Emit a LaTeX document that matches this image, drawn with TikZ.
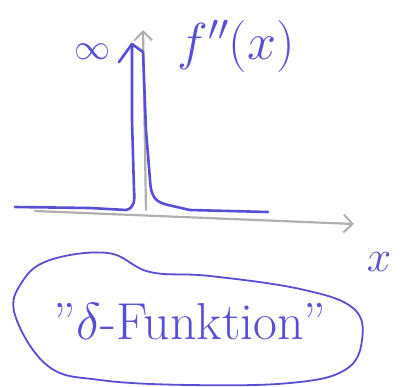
\RequirePackage{fix-cm}
\documentclass[tikz,border=0pt]{standalone}
\usepackage{amsmath}
\usepackage{tikz}
\usetikzlibrary{arrows.meta,positioning}

\definecolor{pen}{RGB}{88,78,212}
\definecolor{pencil}{RGB}{175,175,175}

\begin{document}
\begin{tikzpicture}
          [x=1pt,y=-1pt,line cap=round,line join=round]
          \tikzstyle{axis}=[draw=pencil,line width=2.2pt,-{Straight Barb[length=9pt,width=18pt,line width=2pt]}]
          \tikzstyle{curve}=[draw=pen,line width=2.6pt]
          \tikzstyle{hand}=[text=pen,inner sep=0pt]
          \useasboundingbox (0,0) rectangle (403,386);

          % axes
          \coordinate (o) at (146,210);
          \coordinate (ytop) at (143,30);
          \coordinate (xleft) at (35,211);
          \coordinate (xright) at (354,224);
          \draw[axis] (o) -- (ytop);
          \draw[axis] (xleft) -- (xright);

          % spike
          \draw[curve] (15,207) -- (90,208) -- (126,210)
            .. controls (134,208) and (135,202) .. (134,190)
            -- (132,120) -- (132,44) -- (143,52) -- (146,130) -- (150,180)
            .. controls (151,198) and (156,202) .. (168,205)
            -- (190,210) -- (268,212);
          \draw[curve] (119,62) -- (132,44);

          % labels
          \node[hand,font=\fontsize{36}{36}\selectfont] (inf) at (92,52) {$\infty$};
          \node[hand,font=\fontsize{52}{52}\selectfont] (fx) at (236,46) {$f''(x)$};
          \node[hand,font=\fontsize{44}{44}\selectfont] (x) at (379,262) {$x$};
          \node[hand,font=\fontsize{52}{52}\selectfont] (delta) at (190,322) {"$\delta$-Funktion"};

          % blob round the label
          \draw[pen,line width=1.8pt] plot[smooth cycle,tension=0.65] coordinates
            {(15,315) (22,282) (50,260) (108,253) (150,272) (210,276) (300,289)
             (353,308) (362,340) (345,370) (290,383) (190,385) (100,380) (48,366)};
        \end{tikzpicture}
\end{document}
